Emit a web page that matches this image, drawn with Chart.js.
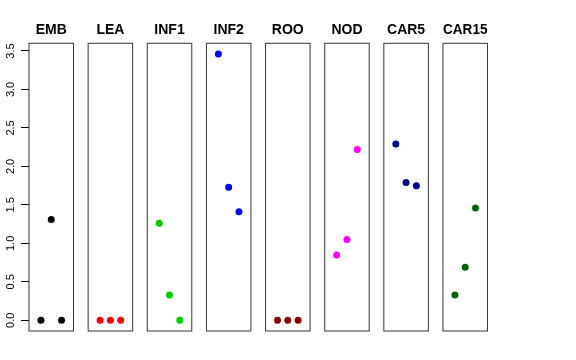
<!DOCTYPE html>
<html>
<head>
<meta charset="utf-8">
<script src="https://cdn.jsdelivr.net/npm/chart.js@4"></script>
<style>
  html, body { margin: 0; padding: 0; background: #fff; }
  #wrap { position: relative; width: 576px; height: 360px; overflow: hidden; }
  #wrap canvas { position: absolute; left: 0; top: 0; }
</style>
</head>
<body>
<div id="wrap"></div>
<script>
const categories = ['EMB', 'LEA', 'INF1', 'INF2', 'ROO', 'NOD', 'CAR5', 'CAR15'];
const colors = ['#000000', '#FF0000', '#00CD00', '#0000FF', '#8B0000', '#FF00FF', '#00008B', '#006400'];

const emb = [0, 1.31, 0];
const lea = [0, 0, 0];
const inf1 = [1.26, 0.33, 0];
const inf2 = [3.46, 1.73, 1.41];
const roo = [0, 0, 0];
const nod = [0.85, 1.05, 2.22];
const car5 = [2.29, 1.79, 1.75];
const car15 = [0.33, 0.69, 1.46];
const values = [emb, lea, inf1, inf2, roo, nod, car5, car15];

const yTicks = [0, 0.5, 1, 1.5, 2, 2.5, 3, 3.5];

Chart.defaults.font.family = 'Liberation Sans';
Chart.defaults.color = '#000';

// panel geometry
const firstLeft = 29;
const step = 59.14;
const panelW = 44.5;
const W = 576, H = 360;

// R-style box around each panel
const boxPlugin = {
  id: 'box',
  afterDraw(chart) {
    const { ctx, chartArea: a } = chart;
    ctx.save();
    ctx.strokeStyle = '#333';
    ctx.lineWidth = 1;
    ctx.strokeRect(a.left, a.top, a.right - a.left, a.bottom - a.top);
    ctx.restore();
  }
};

const wrap = document.getElementById('wrap');

categories.forEach((cat, i) => {
  const canvas = document.createElement('canvas');
  canvas.width = W;
  canvas.height = H;
  wrap.appendChild(canvas);

  const left = firstLeft + i * step;
  const first = i === 0;

  new Chart(canvas, {
    type: 'scatter',
    data: {
      datasets: [{
        data: values[i].map((v, j) => ({ x: j + 1, y: v })),
        backgroundColor: colors[i],
        borderColor: colors[i],
        pointRadius: 3.5,
        pointBorderWidth: 0,
        showLine: false
      }]
    },
    plugins: [boxPlugin],
    options: {
      responsive: false,
      animation: false,
      layout: {
        padding: {
          left: first ? 0 : left,
          right: W - left - panelW,
          top: 0,
          bottom: 29
        }
      },
      plugins: {
        legend: { display: false },
        tooltip: { enabled: false },
        title: {
          display: true,
          text: cat,
          fullSize: false,
          font: { size: 14, weight: 'bold' },
          color: '#000',
          padding: { top: 22, bottom: 4.5 }
        }
      },
      scales: {
        x: {
          type: 'linear',
          min: -0.16,
          max: 4.16,
          display: false
        },
        y: {
          type: 'linear',
          min: -0.139,
          max: 3.60,
          display: first,
          position: 'left',
          border: { display: false },
          grid: {
            drawOnChartArea: false,
            drawTicks: true,
            tickLength: 8,
            tickColor: '#000'
          },
          ticks: {
            minRotation: 90,
            maxRotation: 90,
            crossAlign: 'center',
            padding: 2,
            font: { size: 11 },
            color: '#000',
            callback: v => v.toFixed(1)
          },
          afterBuildTicks: s => { s.ticks = yTicks.map(v => ({ value: v })); },
          afterFit: s => { if (first) s.width = firstLeft; }
        }
      }
    }
  });
});
</script>
</body>
</html>
